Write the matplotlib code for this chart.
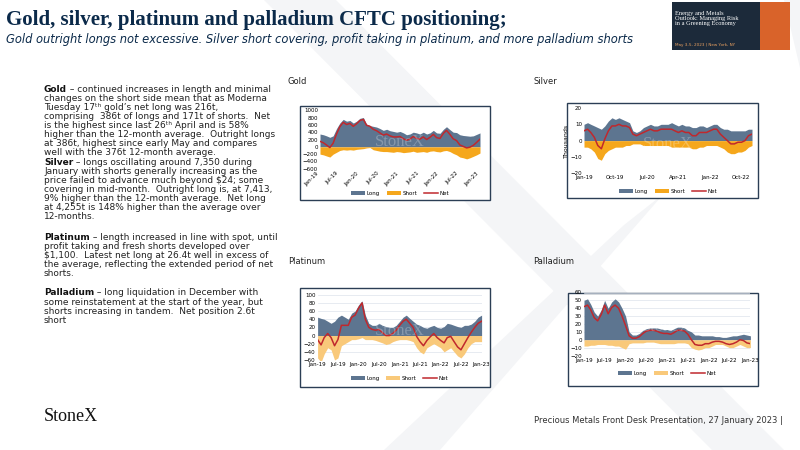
import matplotlib
matplotlib.use("Agg")
import matplotlib.pyplot as plt
import numpy as np
import pandas as pd
from matplotlib.patches import Rectangle, Polygon
from matplotlib.text import Annotation

dates = pd.date_range("2019-01-01", periods=49, freq="MS")

gold_long = [350,330,300,260,300,500,650,750,700,720,650,700,780,800,620,580,560,540,500,450,480,440,420,400,
             420,380,330,350,400,380,350,400,350,380,450,380,370,480,550,470,400,390,330,310,300,290,300,340,380]
gold_short = [-200,-220,-250,-280,-200,-150,-100,-80,-90,-80,-90,-70,-60,-50,-30,-20,-80,-100,-120,-130,-130,-140,-150,-130,
              -140,-160,-150,-140,-120,-150,-140,-130,-150,-120,-110,-130,-140,-110,-100,-130,-180,-220,-280,-300,-330,-300,-260,-220,-170]
silver_long = [10,11,10,9,8,7,9,12,14,13,14,13,12,11,6,5,6,8,9,10,9,9,10,10,10,11,10,9,10,9,9,8,8,9,9,8,9,10,10,8,7,7,6,6,6,6,6,7,7]
silver_short = [-4,-4,-5,-7,-11,-12,-8,-6,-5,-4,-4,-4,-3,-3,-2,-2,-2,-3,-3,-3,-3,-3,-3,-3,-3,-4,-4,-4,-4,-4,-4,-5,-5,-4,-4,-3,-3,-3,-3,-4,-5,-7,-8,-8,-7,-7,-6,-4,-3]
plat_long = [45,42,40,35,30,35,45,50,45,40,55,60,75,85,50,30,25,25,30,25,22,20,20,25,35,45,50,42,35,28,25,20,18,22,25,20,18,22,30,28,25,22,20,25,25,28,35,45,50]
plat_short = [-55,-65,-45,-30,-35,-60,-55,-25,-20,-15,-10,-10,-8,-5,-10,-10,-10,-12,-15,-18,-22,-20,-15,-12,-10,-10,-10,-12,-15,-30,-40,-45,-30,-25,-20,-25,-30,-40,-35,-30,-40,-50,-55,-45,-30,-20,-15,-15,-15]
pall_long = [50,52,45,35,30,38,50,40,48,52,48,40,30,10,6,6,8,12,14,15,15,15,14,13,13,12,14,16,16,15,12,10,6,6,5,5,5,5,4,4,3,3,4,5,5,6,7,6,5]
pall_short = [-8,-8,-7,-7,-6,-6,-6,-7,-7,-8,-8,-10,-12,-5,-4,-4,-4,-4,-3,-3,-3,-4,-5,-5,-5,-5,-5,-4,-4,-4,-5,-10,-12,-13,-12,-10,-10,-8,-6,-6,-6,-8,-10,-10,-8,-6,-8,-10,-10]

LONG = "#5d7590"; NET = "#c0282d"
NAVY = "#0b2a4a"

fig = plt.figure(figsize=(8, 4.5), dpi=100)
fig.patch.set_facecolor("white")

for pts in ([(0.33, 1.0), (0.42, 1.0), (0.98, 0.0), (0.89, 0.0)],
            [(0.98, 1.0), (1.0, 1.0), (1.0, 0.85)],
            [(0.78, 0.5), (0.83, 0.57), (0.55, 0.0), (0.48, 0.0)]):
    fig.patches.append(Polygon(pts, closed=True, transform=fig.transFigure,
                               facecolor="#f4f5f7", edgecolor="none", zorder=0))

fig.text(0.008, 0.955, "Gold, silver, platinum and palladium CFTC positioning;", family="Liberation Serif",
         fontweight="bold", fontsize=15, color=NAVY, va="center")
fig.text(0.008, 0.912, "Gold outright longs not excessive. Silver short covering, profit taking in platinum, and more palladium shorts",
         fontsize=8.3, style="italic", color=NAVY, va="center")

fig.patches.append(Rectangle((0.84, 0.89), 0.148, 0.105, transform=fig.transFigure,
                             facecolor="#1c2a3a", edgecolor="none", zorder=2))
fig.patches.append(Rectangle((0.95, 0.89), 0.038, 0.105, transform=fig.transFigure,
                             facecolor="#d9632a", edgecolor="none", zorder=2))
fig.text(0.844, 0.975, "Energy and Metals\nOutlook: Managing Risk\nin a Greening Economy", family="Liberation Serif",
         fontsize=4.6, color="white", va="top", linespacing=1.0, zorder=3)
fig.text(0.844, 0.898, "May 3-5, 2023 | New York, NY", fontsize=3, color="#e8a060", zorder=3)

fs = 6.5
LH = 9.3 / 450
paras = [
    (0.812, "Gold", " – continued increases in length and minimal",
     "changes on the short side mean that as Moderna\nTuesday 17ᵗʰ gold’s net long was 216t,\ncomprising  386t of longs and 171t of shorts.  Net\nis the highest since last 26ᵗʰ April and is 58%\nhigher than the 12-month average.  Outright longs\nat 386t, highest since early May and compares\nwell with the 376t 12-month average."),
    (0.649, "Silver", " – longs oscillating around 7,350 during",
     "January with shorts generally increasing as the\nprice failed to advance much beyond $24; some\ncovering in mid-month.  Outright long is, at 7,413,\n9% higher than the 12-month average.  Net long\nat 4,255t is 148% higher than the average over\n12-months."),
    (0.483, "Platinum", " – length increased in line with spot, until",
     "profit taking and fresh shorts developed over\n$1,100.  Latest net long at 26.4t well in excess of\nthe average, reflecting the extended period of net\nshorts."),
    (0.359, "Palladium", " – long liquidation in December with",
     "some reinstatement at the start of the year, but\nshorts increasing in tandem.  Net position 2.6t\nshort"),
]
for y, b, first, rest in paras:
    tb = fig.text(0.055, y, b, fontsize=fs, fontweight="bold", va="top", color="#111")
    fig.add_artist(Annotation(first, xy=(1, 1), xycoords=tb, va="top", ha="left", fontsize=fs, color="#222"))
    fig.text(0.055, y - LH, rest, fontsize=fs, va="top", color="#222", linespacing=1.0)

fig.text(0.055, 0.065, "StoneX", family="Liberation Serif", fontsize=13, color="#111")
fig.text(0.668, 0.06, "Precious Metals Front Desk Presentation, 27 January 2023 |", fontsize=6, color="#333")

def box(x0, y0, x1, y1):
    fig.patches.append(Rectangle((x0/800, 1-y1/450), (x1-x0)/800, (y1-y0)/450, transform=fig.transFigure,
                                 facecolor="white", edgecolor="#2b3e55", lw=1.0, zorder=1))

def panel(title, tx, ty, rect, longv, shortv, short_col, yticks, xticks, xfmt, rot, ylabel=None, grid=False):
    fig.text(tx/800, 1-ty/450, title, fontsize=6, color="#222", va="center")
    ax = fig.add_axes(rect)
    ax.set_zorder(3)
    ax.patch.set_alpha(0)
    l = np.array(longv, float); s = np.array(shortv, float)
    ax.fill_between(dates, 0, l, color=LONG, lw=0, label="Long")
    ax.fill_between(dates, 0, s, color=short_col, lw=0, label="Short")
    ax.plot(dates, l + s, color=NET, lw=1.1, label="Net")
    ax.set_xlim(dates[0], dates[-1])
    ax.set_ylim(yticks[0], yticks[-1])
    ax.set_yticks(yticks)
    ax.tick_params(labelsize=4, length=0, pad=1.5)
    ax.set_xticks(xticks)
    ax.set_xticklabels([pd.Timestamp(d).strftime(xfmt) for d in xticks], rotation=rot,
                       ha="right" if rot else "center")
    for sp in ax.spines.values():
        sp.set_visible(False)
    if grid:
        ax.grid(axis="y", color="#dde3ec", lw=0.5)
        ax.set_axisbelow(True)
    if ylabel:
        ax.set_ylabel(ylabel, fontsize=4.5, labelpad=1)
    ax.text(0.5, 0.45, "StoneX", transform=ax.transAxes, fontsize=12, family="Liberation Serif",
            color="white", alpha=0.25, ha="center", va="center")
    ax.legend(loc="upper center", bbox_to_anchor=(0.5, -0.3 if rot else -0.17), ncol=3, frameon=False,
              fontsize=4, handlelength=2.5, columnspacing=1.2, handletextpad=0.3)
    return ax

q6 = pd.date_range("2019-01-01", "2023-01-01", freq="6MS")
box(300, 106, 490, 200)
panel("Gold", 288, 82, [0.4, 0.625, 0.2, 0.13], gold_long, gold_short, "#f5a71c",
      list(range(-600, 1001, 200)), q6, "%b-%y", 45)
box(567, 103, 758, 198)
q9 = pd.date_range("2019-01-01", "2023-01-01", freq="9MS")
panel("Silver", 533, 82, [0.73, 0.615, 0.21, 0.145], silver_long, silver_short, "#f5a71c",
      [-20, -10, 0, 10, 20], q9, "%b-%y", 0, ylabel="Thousands")
box(300, 288, 490, 387)
panel("Platinum", 288, 262, [0.397, 0.2, 0.205, 0.145], plat_long, plat_short, "#f9c97a",
      list(range(-60, 101, 20)), q6, "%b-%y", 0, grid=True)
box(568, 293, 758, 386)
panel("Palladium", 533, 262, [0.73, 0.21, 0.208, 0.14], pall_long, pall_short, "#f9c97a",
      list(range(-20, 61, 10)), q6, "%b-%y", 0, grid=True)

fig.savefig("out.png", dpi=100)
